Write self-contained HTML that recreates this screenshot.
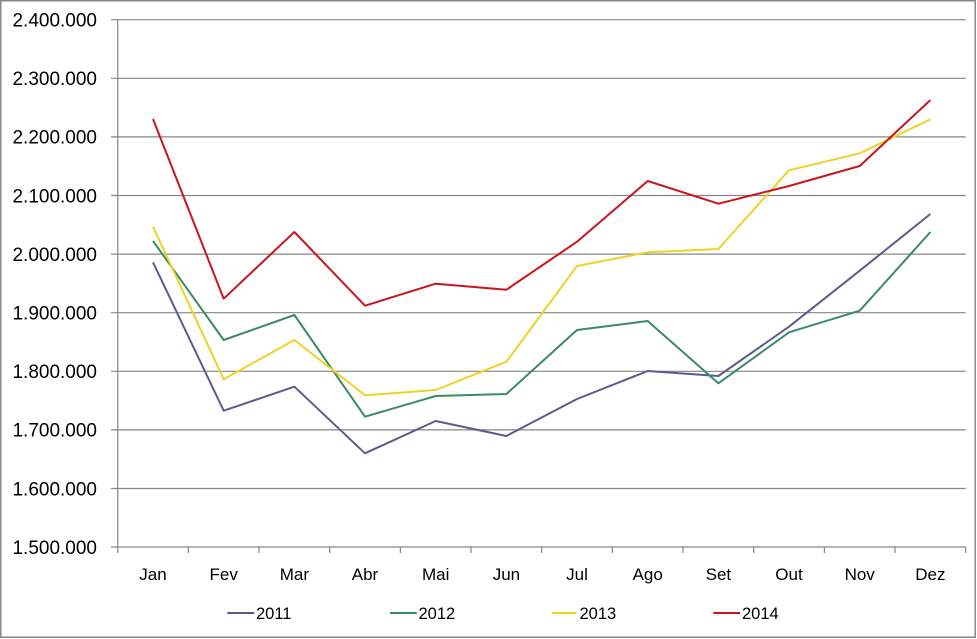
<!DOCTYPE html>
<html><head><meta charset="utf-8"><style>
html,body{margin:0;padding:0;background:#fff;}
svg{display:block;}
text{font-family:"Liberation Sans",sans-serif;fill:#000;}
</style></head><body>
<svg width="977" height="639" viewBox="0 0 977 639" xmlns="http://www.w3.org/2000/svg">
<rect x="0.75" y="0.75" width="974.5" height="636.5" fill="#fff" stroke="#878787" stroke-width="1.5"/>
<g stroke="#868686" stroke-width="1.2">
<line x1="111" y1="19.7" x2="965.7" y2="19.7"/>
<line x1="111" y1="78.3" x2="965.7" y2="78.3"/>
<line x1="111" y1="136.9" x2="965.7" y2="136.9"/>
<line x1="111" y1="195.5" x2="965.7" y2="195.5"/>
<line x1="111" y1="254.1" x2="965.7" y2="254.1"/>
<line x1="111" y1="312.7" x2="965.7" y2="312.7"/>
<line x1="111" y1="371.3" x2="965.7" y2="371.3"/>
<line x1="111" y1="429.9" x2="965.7" y2="429.9"/>
<line x1="111" y1="488.5" x2="965.7" y2="488.5"/>
<line x1="111" y1="547" x2="965.7" y2="547"/>
<line x1="117.7" y1="19.7" x2="117.7" y2="553"/>
<line x1="188.4" y1="547" x2="188.4" y2="553"/>
<line x1="259" y1="547" x2="259" y2="553"/>
<line x1="329.7" y1="547" x2="329.7" y2="553"/>
<line x1="400.4" y1="547" x2="400.4" y2="553"/>
<line x1="471" y1="547" x2="471" y2="553"/>
<line x1="541.7" y1="547" x2="541.7" y2="553"/>
<line x1="612.4" y1="547" x2="612.4" y2="553"/>
<line x1="683" y1="547" x2="683" y2="553"/>
<line x1="753.7" y1="547" x2="753.7" y2="553"/>
<line x1="824.4" y1="547" x2="824.4" y2="553"/>
<line x1="895" y1="547" x2="895" y2="553"/>
<line x1="965.7" y1="547" x2="965.7" y2="553"/>
</g>
<g font-size="19" text-anchor="end">
<text x="97" y="26.5">2.400.000</text>
<text x="97" y="85">2.300.000</text>
<text x="97" y="143.7">2.200.000</text>
<text x="97" y="202.3">2.100.000</text>
<text x="97" y="260.9">2.000.000</text>
<text x="97" y="319.5">1.900.000</text>
<text x="97" y="378.1">1.800.000</text>
<text x="97" y="436.7">1.700.000</text>
<text x="97" y="495.3">1.600.000</text>
<text x="97" y="553.8">1.500.000</text>
</g>
<g font-size="17" text-anchor="middle">
<text x="153" y="580">Jan</text>
<text x="223.7" y="580">Fev</text>
<text x="294.4" y="580">Mar</text>
<text x="365" y="580">Abr</text>
<text x="435.7" y="580">Mai</text>
<text x="506.4" y="580">Jun</text>
<text x="577" y="580">Jul</text>
<text x="647.7" y="580">Ago</text>
<text x="718.4" y="580">Set</text>
<text x="789" y="580">Out</text>
<text x="859.7" y="580">Nov</text>
<text x="930.4" y="580">Dez</text>
</g>
<g fill="none" stroke-width="2" stroke-linejoin="round">
<polyline stroke="#5E5A8C" points="153,262.3 223.7,410.7 294.4,386.7 365,453.3 435.7,421 506.4,436 577,399 647.7,371 718.4,376 789,326.7 859.7,270.7 930.4,214"/>
<polyline stroke="#3A8A68" points="153,241 223.7,340 294.4,315 365,416.7 435.7,396 506.4,394 577,330 647.7,321 718.4,383.3 789,332.3 859.7,310.7 930.4,232"/>
<polyline stroke="#F0D226" points="153,226.7 223.7,379.3 294.4,340 365,395.3 435.7,390 506.4,361.7 577,266 647.7,252.3 718.4,249 789,170.3 859.7,153.3 930.4,119.3"/>
<polyline stroke="#C8161E" points="153,119 223.7,298.7 294.4,232 365,305.7 435.7,283.7 506.4,289.7 577,241.7 647.7,181 718.4,203.7 789,186 859.7,166 930.4,100"/>
</g>
<g stroke-width="2">
<line x1="227.3" y1="613" x2="254.3" y2="613" stroke="#5E5A8C"/>
<line x1="390" y1="613" x2="416.7" y2="613" stroke="#3A8A68"/>
<line x1="551.7" y1="613" x2="576.7" y2="613" stroke="#F0D226"/>
<line x1="713.3" y1="613" x2="740" y2="613" stroke="#C8161E"/>
</g>
<g font-size="16.5">
<text x="256" y="619">2011</text>
<text x="418.5" y="619">2012</text>
<text x="579.5" y="619">2013</text>
<text x="742" y="619">2014</text>
</g>
</svg>
</body></html>
